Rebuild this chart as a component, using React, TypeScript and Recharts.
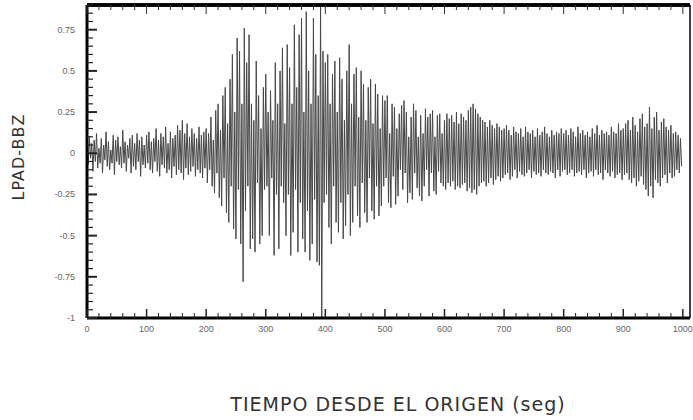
import React from 'react';
import { LineChart, Line, XAxis, YAxis, ReferenceLine } from 'recharts';

// seismogram samples, one every 2 s (one row per 100 s)
const row0 = [
  0.04, -0.07, 0.1, -0.03, 0.06, -0.11, 0.08, -0.05, 0.12, -0.09,
  0.03, -0.06, 0.09, -0.12, 0.05, -0.04, 0.13, -0.08, 0.07, -0.1,
  0.02, -0.06, 0.11, -0.13, 0.08, -0.05, 0.1, -0.07, 0.04, -0.09,
  0.14, -0.06, 0.07, -0.11, 0.05, -0.03, 0.09, -0.12, 0.11, -0.08,
  0.06, -0.1, 0.12, -0.05, 0.08, -0.14, 0.1, -0.07, 0.05, -0.09,
];
const row1 = [
  0.11, -0.06, 0.13, -0.1, 0.07, -0.12, 0.09, -0.05, 0.15, -0.11,
  0.08, -0.14, 0.12, -0.07, 0.1, -0.09, 0.16, -0.12, 0.06, -0.1,
  0.13, -0.15, 0.09, -0.08, 0.11, -0.13, 0.17, -0.1, 0.14, -0.12,
  0.2, -0.16, 0.12, -0.09, 0.18, -0.13, 0.1, -0.11, 0.15, -0.08,
  0.12, -0.14, 0.09, -0.1, 0.16, -0.12, 0.11, -0.15, 0.13, -0.09,
];
const row2 = [
  0.15, -0.18, 0.12, -0.1, 0.22, -0.2, 0.08, -0.24, 0.26, -0.12,
  0.3, -0.27, 0.14, -0.32, 0.35, -0.15, 0.4, -0.36, 0.18, -0.42,
  0.45, -0.2, 0.6, -0.46, 0.25, -0.52, 0.7, -0.22, 0.62, -0.55,
  0.3, -0.78, 0.76, -0.35, 0.55, -0.2, 0.72, -0.58, 0.3, -0.52,
  0.2, -0.6, 0.56, -0.18, 0.35, -0.55, 0.15, -0.5, 0.4, -0.22,
];
const row3 = [
  0.48, -0.2, 0.25, -0.5, 0.38, -0.15, 0.2, -0.62, 0.55, -0.25,
  0.3, -0.58, 0.5, -0.2, 0.64, -0.3, 0.18, -0.5, 0.66, -0.25,
  0.52, -0.62, 0.3, -0.48, 0.78, -0.22, 0.4, -0.6, 0.72, -0.3,
  0.82, -0.52, 0.25, -0.6, 0.86, -0.35, 0.5, -0.65, 0.3, -0.55,
  0.82, -0.28, 0.6, -0.66, 0.35, -0.68, 0.9, -1.0, 0.62, -0.3,
];
const row4 = [
  0.55, -0.25, 0.6, -0.45, 0.3, -0.55, 0.48, -0.2, 0.56, -0.42,
  0.25, -0.48, 0.58, -0.3, 0.45, -0.52, 0.2, -0.44, 0.5, -0.25,
  0.66, -0.5, 0.3, -0.42, 0.48, -0.2, 0.52, -0.38, 0.22, -0.45,
  0.5, -0.18, 0.42, -0.36, 0.2, -0.42, 0.4, -0.15, 0.45, -0.35,
  0.18, -0.4, 0.42, -0.2, 0.36, -0.38, 0.15, -0.32, 0.35, -0.2,
];
const row5 = [
  0.32, -0.15, 0.35, -0.3, 0.12, -0.33, 0.3, -0.14, 0.28, -0.31,
  0.15, -0.26, 0.24, -0.1, 0.29, -0.22, 0.32, -0.12, 0.25, -0.3,
  0.1, -0.24, 0.22, -0.28, 0.3, -0.12, 0.26, -0.21, 0.1, -0.26,
  0.23, -0.29, 0.12, -0.2, 0.27, -0.1, 0.22, -0.26, 0.24, -0.12,
  0.26, -0.23, 0.1, -0.25, 0.23, -0.11, 0.24, -0.18, 0.12, -0.2,
];
const row6 = [
  0.2, -0.22, 0.24, -0.18, 0.21, -0.2, 0.23, -0.17, 0.19, -0.22,
  0.25, -0.2, 0.18, -0.21, 0.24, -0.19, 0.22, -0.18, 0.2, -0.23,
  0.26, -0.21, 0.28, -0.24, 0.3, -0.22, 0.27, -0.25, 0.24, -0.2,
  0.22, -0.18, 0.2, -0.17, 0.19, -0.2, 0.16, -0.18, 0.2, -0.15,
  0.17, -0.19, 0.15, -0.16, 0.18, -0.14, 0.16, -0.17, 0.14, -0.15,
];
const row7 = [
  0.15, -0.13, 0.17, -0.12, 0.14, -0.16, 0.11, -0.14, 0.16, -0.1,
  0.13, -0.15, 0.12, -0.11, 0.15, -0.13, 0.1, -0.14, 0.16, -0.12,
  0.13, -0.1, 0.12, -0.15, 0.14, -0.11, 0.1, -0.13, 0.15, -0.12,
  0.11, -0.14, 0.13, -0.1, 0.16, -0.12, 0.12, -0.13, 0.1, -0.11,
  0.14, -0.12, 0.11, -0.15, 0.13, -0.1, 0.12, -0.14, 0.15, -0.11,
];
const row8 = [
  0.12, -0.1, 0.14, -0.13, 0.11, -0.12, 0.15, -0.1, 0.13, -0.14,
  0.1, -0.12, 0.16, -0.11, 0.12, -0.13, 0.14, -0.1, 0.11, -0.15,
  0.13, -0.12, 0.1, -0.11, 0.15, -0.14, 0.12, -0.1, 0.17, -0.13,
  0.11, -0.12, 0.14, -0.16, 0.12, -0.1, 0.13, -0.12, 0.11, -0.14,
  0.16, -0.11, 0.13, -0.15, 0.12, -0.13, 0.18, -0.12, 0.14, -0.16,
];
const row9 = [
  0.15, -0.13, 0.18, -0.12, 0.2, -0.16, 0.14, -0.18, 0.22, -0.15,
  0.17, -0.2, 0.13, -0.17, 0.21, -0.14, 0.24, -0.19, 0.16, -0.22,
  0.18, -0.26, 0.28, -0.2, 0.15, -0.27, 0.22, -0.16, 0.25, -0.18,
  0.14, -0.2, 0.19, -0.15, 0.21, -0.13, 0.16, -0.18, 0.14, -0.12,
  0.17, -0.15, 0.12, -0.14, 0.13, -0.1, 0.11, -0.12, 0.09, -0.08,
];

const amplitude = [...row0, ...row1, ...row2, ...row3, ...row4, ...row5, ...row6, ...row7, ...row8, ...row9];
const SAMPLE_STEP = 2;

const xLabels = [0, 100, 200, 300, 400, 500, 600, 700, 800, 900, 1000];
const yLabels = [0.75, 0.5, 0.25, 0, -0.25, -0.5, -0.75, -1];
const Y_TOP = 0.9;

const xTicks = Array.from({ length: 51 }, (_, i) => i * 20);
const yTicks = Array.from({ length: 39 }, (_, i) => Math.round((-1 + i * 0.05) * 100) / 100);

const data = amplitude.map((v, i) => ({ t: i * SAMPLE_STEP, v }));

const isXMajor = (v: number) => xLabels.includes(v);
const isYMajor = (v: number) => yLabels.some((l) => Math.abs(l - v) < 1e-6);

const BottomTick = (props: any) => {
  const { x, y, payload } = props;
  const major = isXMajor(payload.value);
  return (
    <g>
      <line x1={x} x2={x} y1={y} y2={y - (major ? 9 : 5)} stroke="#222" strokeWidth={major ? 1.5 : 1} />
      {major && (
        <text x={x} y={y + 14} textAnchor="middle" fontSize={9} fill="#666" fontFamily="Liberation Sans, Arial">
          {payload.value}
        </text>
      )}
    </g>
  );
};

const TopTick = (props: any) => {
  const { x, y, payload } = props;
  const major = isXMajor(payload.value);
  return <line x1={x} x2={x} y1={y} y2={y + (major ? 9 : 5)} stroke="#333" strokeWidth={1} />;
};

const LeftTick = (props: any) => {
  const { x, y, payload } = props;
  const major = isYMajor(payload.value);
  return (
    <g>
      <line x1={x} x2={x + (major ? 10 : 6)} y1={y} y2={y} stroke="#222" strokeWidth={major ? 2 : 1.2} />
      {major && (
        <text x={x - 12} y={y + 3} textAnchor="end" fontSize={9} fill="#666" fontFamily="Liberation Sans, Arial">
          {payload.value}
        </text>
      )}
    </g>
  );
};

const RightTick = (props: any) => {
  const { x, y, payload } = props;
  const major = isYMajor(payload.value);
  return <line x1={x} x2={x - (major ? 10 : 6)} y1={y} y2={y} stroke="#222" strokeWidth={major ? 2 : 1.2} />;
};

export default function App() {
  return (
    <div style={{ position: 'absolute', left: 0, top: 0, width: 693, height: 420, background: '#fff' }}>
      <LineChart width={693} height={420} data={data} margin={{ top: 1, right: 2, bottom: 0, left: 0 }}>
        <XAxis
          xAxisId="bottom"
          dataKey="t"
          type="number"
          domain={[0, 1012]}
          ticks={xTicks}
          interval={0}
          height={102}
          tickSize={0}
          tickMargin={0}
          tickLine={false}
          tick={<BottomTick />}
          axisLine={{ stroke: '#000', strokeWidth: 3 }}
          label={{
            content: () => (
              <text
                x={398}
                y={411}
                textAnchor="middle"
                fontSize={19}
                letterSpacing={1}
                fill="#333"
                fontFamily="DejaVu Sans, Verdana"
              >
                TIEMPO DESDE EL ORIGEN (seg)
              </text>
            ),
          }}
        />
        <XAxis
          xAxisId="top"
          orientation="top"
          dataKey="t"
          type="number"
          domain={[0, 1012]}
          ticks={xTicks}
          interval={0}
          height={4}
          tickSize={0}
          tickMargin={0}
          tickLine={false}
          tick={<TopTick />}
          axisLine={{ stroke: '#000', strokeWidth: 3.5 }}
        />
        <YAxis
          yAxisId="left"
          type="number"
          domain={[-1, Y_TOP]}
          ticks={yTicks}
          interval={0}
          width={87}
          tickSize={0}
          tickMargin={0}
          tickLine={false}
          tick={<LeftTick />}
          axisLine={{ stroke: '#000', strokeWidth: 3 }}
          label={{
            content: () => (
              <text
                x={24}
                y={157}
                textAnchor="middle"
                fontSize={16}
                letterSpacing={1}
                fill="#333"
                fontFamily="DejaVu Sans, Verdana"
                transform="rotate(-90 24 157)"
              >
                LPAD-BBZ
              </text>
            ),
          }}
        />
        <YAxis
          yAxisId="right"
          orientation="right"
          type="number"
          domain={[-1, Y_TOP]}
          ticks={yTicks}
          interval={0}
          width={1}
          tickSize={0}
          tickMargin={0}
          tickLine={false}
          tick={<RightTick />}
          axisLine={{ stroke: '#000', strokeWidth: 1.5 }}
        />
        <Line
          xAxisId="bottom"
          yAxisId="left"
          dataKey="v"
          type="linear"
          stroke="#484848"
          strokeWidth={1}
          dot={false}
          isAnimationActive={false}
        />
        <ReferenceLine
          xAxisId="bottom"
          yAxisId="left"
          y={Y_TOP}
          stroke="#000"
          strokeWidth={3.5}
          ifOverflow="visible"
        />
      </LineChart>
    </div>
  );
}
